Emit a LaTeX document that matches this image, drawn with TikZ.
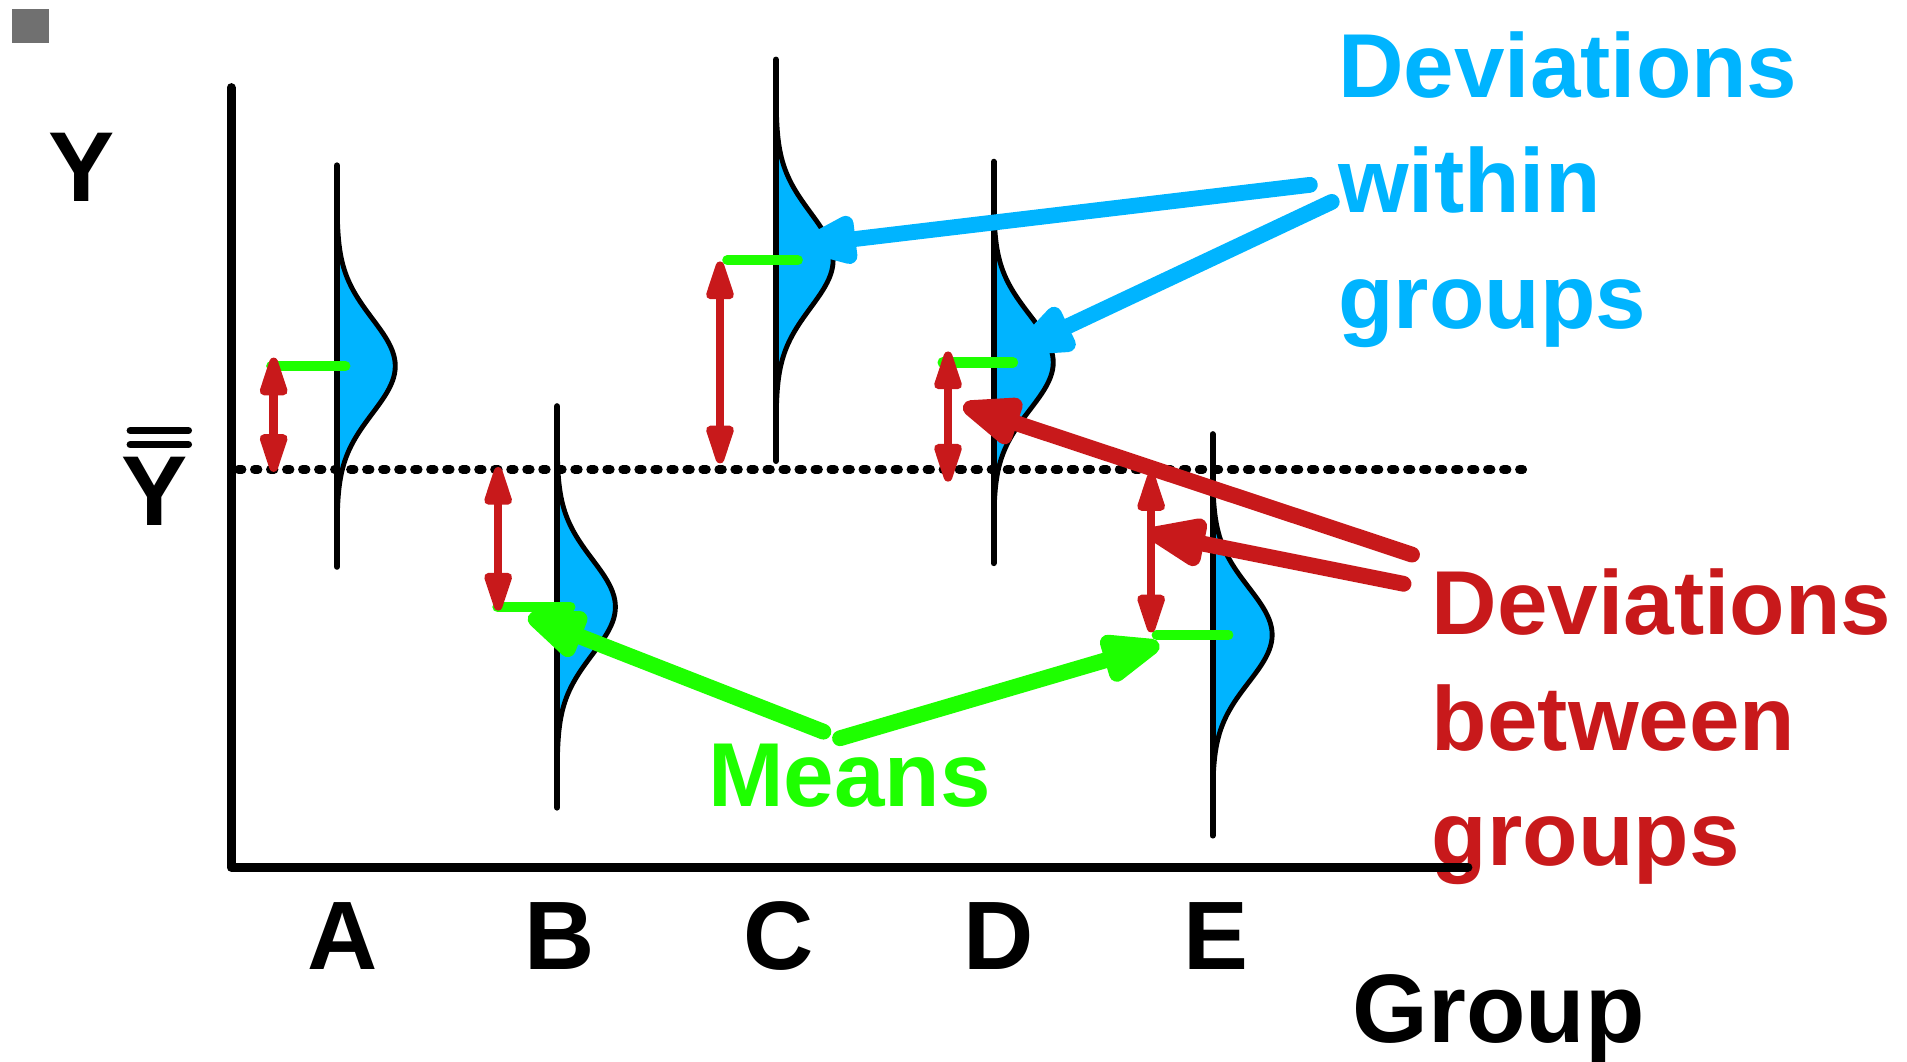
\documentclass[tikz,border=0pt]{standalone}
\usepackage{fontspec}
\setmainfont{Liberation Sans}
\usetikzlibrary{arrows.meta}
\definecolor{myblue}{RGB}{0,180,255}
\definecolor{mygreen}{RGB}{30,255,0}
\definecolor{myred}{RGB}{200,25,27}
\definecolor{mygray}{RGB}{112,112,112}
\begin{document}
\begin{tikzpicture}[x=0.6pt,y=-0.6pt,
 bigarrow/.style={line width=7.8pt,line cap=round,-{Triangle[length=36pt,width=25pt,round]}},
 devarrow/.style={draw=myred,line width=4.2pt,{Triangle[length=24pt,width=14pt,round]}-{Triangle[length=24pt,width=14pt,round]}},
 meanline/.style={draw=mygreen,line width=5pt,line cap=round},
 grpline/.style={line width=3pt,line cap=round},
 bell/.style={fill=myblue,draw=black,line width=2.4pt},
 lbl/.style={inner sep=0pt,anchor=base west,font=\fontsize{44.8pt}{57pt}\selectfont\bfseries},
 axlbl/.style={inner sep=0pt,anchor=base,font=\fontsize{48pt}{57pt}\selectfont\bfseries},
]
\useasboundingbox (0,0) rectangle (1568,873);
\fill[mygray] (10,7) rectangle (40,35);

% texts
\node[lbl,text=myblue] (bw1) at (1100,80.3) {Deviations};
\node[lbl,text=myblue] (bw2) at (1100,175) {within};
\node[lbl,text=myblue] (bw3) at (1100,270) {groups};
\node[lbl,text=myred] (rb1) at (1177,522) {Deviations};
\node[lbl,text=myred] (rb2) at (1177,617) {between};
\node[lbl,text=myred] (rb3) at (1177,712) {groups};
\node[lbl,text=mygreen] (mn) at (582,663) {Means};
\node[lbl,font=\fontsize{48pt}{57pt}\selectfont\bfseries] (grp) at (1112,857) {Group};
\node[axlbl] (gA) at (282,797) {A};
\node[axlbl] (gB) at (460,797) {B};
\node[axlbl] (gC) at (640,797) {C};
\node[axlbl] (gD) at (821,797) {D};
\node[axlbl] (gE) at (999.5,797) {E};
\node[axlbl,font=\fontsize{49pt}{57pt}\selectfont\bfseries] (ylab) at (67,166) {Y};
\node[axlbl,font=\fontsize{49pt}{57pt}\selectfont\bfseries] (ybar) at (127,432) {Y};
\draw[line width=3.5pt,line cap=round] (107,354) -- (155,354);
\draw[line width=3.5pt,line cap=round] (107,365.6) -- (155,365.6);

% grand mean
\draw[line width=4.3pt,line cap=round,dash pattern=on 1.8pt off 6.1pt] (196,386) -- (1252,386);

% distributions
\foreach \gx/\gm/\ga in {277/301/48, 458/499/48, 638/214/47, 817/298/49, 997/522/49}{
  \draw[bell] plot[domain=-3.2:3.2,samples=81,smooth] ({\gx+\ga*exp(-0.5*\x*\x)},{\gm+39*\x}) -- cycle;
  \draw[grpline] (\gx,\gm-165) -- (\gx,\gm+165);
}

% group means
\draw[meanline] (223,301) -- (284,301);
\draw[meanline] (409,499) -- (469,499);
\draw[meanline] (598,214) -- (656,214);
\draw[meanline] (775,298) -- (833,298);
\draw[meanline] (951,522) -- (1010,522);

% deviations between
\coordinate (rA1) at (225,294);   \coordinate (rA2) at (225,388);
\coordinate (rB1) at (409.6,384); \coordinate (rB2) at (409.6,502);
\coordinate (rC1) at (592,215);   \coordinate (rC2) at (592,381);
\coordinate (rD1) at (779.5,289); \coordinate (rD2) at (779.5,396);
\coordinate (rE1) at (946.5,389); \coordinate (rE2) at (946.5,520);
\draw[devarrow] (rA1) -- (rA2);
\draw[devarrow] (rB1) -- (rB2);
\draw[devarrow] (rC1) -- (rC2);
\draw[devarrow] (rD1) -- (rD2);
\draw[devarrow] (rE1) -- (rE2);

% axes
\draw[line width=4.4pt,line cap=round,line join=round] (190,72) -- (190,713) -- (1207,713);

% pointer arrows
\coordinate (b1s) at (1077,152);   \coordinate (b1e) at (657,202);
\coordinate (b2s) at (1095,166);   \coordinate (b2e) at (836,288);
\coordinate (r1s) at (1161,456);   \coordinate (r1e) at (792,333.5);
\coordinate (r2s) at (1154,480);   \coordinate (r2e) at (944,438);
\coordinate (g1s) at (677,601.6);  \coordinate (g1e) at (434.3,506.7);
\coordinate (g2s) at (690.7,607);  \coordinate (g2e) at (953.2,529.9);
\draw[bigarrow,myblue] (b1s) -- (b1e);
\draw[bigarrow,myblue] (b2s) -- (b2e);
\draw[bigarrow,myred] (r1s) -- (r1e);
\draw[bigarrow,myred] (r2s) -- (r2e);
\draw[bigarrow,mygreen] (g1s) -- (g1e);
\draw[bigarrow,mygreen] (g2s) -- (g2e);
\end{tikzpicture}
\end{document}
